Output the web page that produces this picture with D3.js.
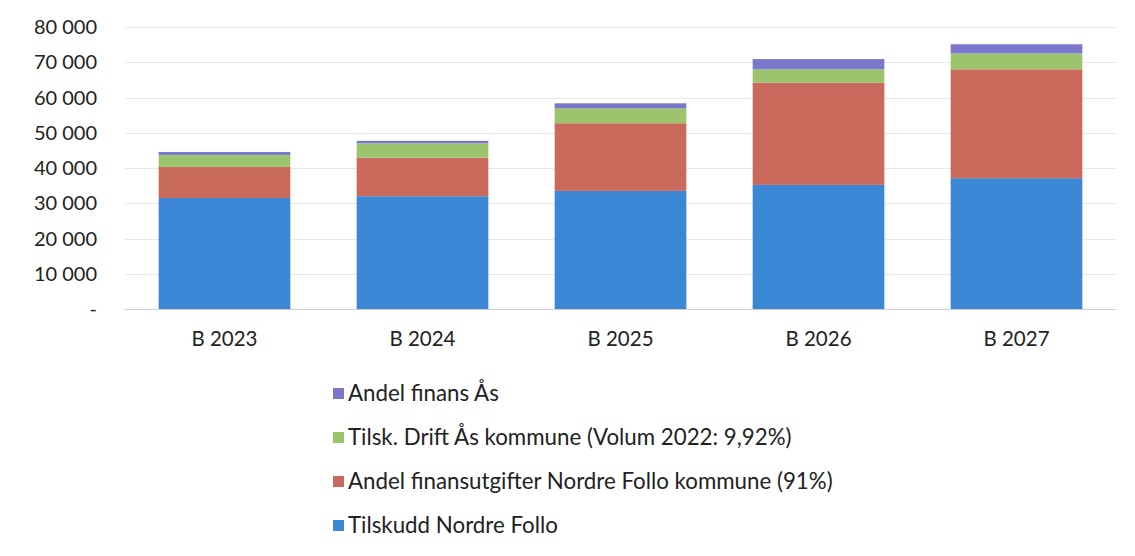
<!DOCTYPE html>
<html>
<head>
<meta charset="utf-8">
<script src="https://cdn.jsdelivr.net/npm/d3@7"></script>
<style>
  body { margin: 0; background: #fff; }
  svg text { font-family: Lato, "Open Sans", sans-serif; fill: #222; }
</style>
</head>
<body>
<svg id="chart" width="1135" height="556"></svg>
<script>
var years = ["B 2023", "B 2024", "B 2025", "B 2026", "B 2027"];
var tilskudd = [31500, 32000, 33500, 35200, 37100];
var finansNF = [8800, 10900, 19200, 29000, 30900];
var driftAas = [3400, 4100, 4250, 3800, 4500];
var finansAas = [850, 700, 1400, 2900, 2600];
var yTicks = [0, 10000, 20000, 30000, 40000, 50000, 60000, 70000, 80000];

var seriesNames = ["Tilskudd Nordre Follo", "Andel finansutgifter Nordre Follo kommune (91%)",
	"Tilsk. Drift Ås kommune (Volum 2022: 9,92%)", "Andel finans Ås"];
var colors = ["#3b87d5", "#c96a5c", "#9cc46c", "#7b78cc"];
var keys = ["t", "f", "d", "a"];

var rows = years.map(function(y, i) {
	return { year: y, t: tilskudd[i], f: finansNF[i], d: driftAas[i], a: finansAas[i] };
});
var stacked = d3.stack().keys(keys)(rows);

var svg = d3.select("#chart"),
	plotLeft = 125, plotRight = 1116, plotTop = 27, plotBottom = 309;

var x = d3.scaleBand().domain(years).range([plotLeft, plotRight]).paddingInner(0.335).paddingOuter(0.17);
var y = d3.scaleLinear().domain([0, 80000]).range([plotBottom, plotTop]);

// gridlines
svg.append("g").selectAll("line")
	.data(yTicks.slice(1))
	.enter().append("line")
	.attr("x1", plotLeft).attr("x2", plotRight)
	.attr("y1", function(d) { return Math.round(y(d)) + 0.5; })
	.attr("y2", function(d) { return Math.round(y(d)) + 0.5; })
	.attr("stroke", "#e8e8e8").attr("stroke-width", 1);

// y labels
svg.append("g").selectAll("text")
	.data(yTicks)
	.enter().append("text")
	.attr("x", 97)
	.attr("y", function(d) { return y(d); })
	.attr("dy", "0.35em")
	.attr("text-anchor", "end")
	.attr("font-size", "20px")
	.text(function(d) { return d === 0 ? "-" : d3.format(",")(d).replace(/,/g, " "); });

// bars
svg.append("g").selectAll("g")
	.data(stacked)
	.enter().append("g")
	.attr("fill", function(d, i) { return colors[i]; })
	.selectAll("rect")
	.data(function(d) { return d; })
	.enter().append("rect")
	.attr("x", function(d) { return x(d.data.year); })
	.attr("width", x.bandwidth())
	.attr("y", function(d) { return y(d[1]); })
	.attr("height", function(d) { return y(d[0]) - y(d[1]); });

// baseline
svg.append("line")
	.attr("x1", plotLeft).attr("x2", plotRight)
	.attr("y1", plotBottom + 0.5).attr("y2", plotBottom + 0.5)
	.attr("stroke", "#cfcfcf");

// x labels
svg.append("g").selectAll("text")
	.data(years)
	.enter().append("text")
	.attr("x", function(d) { return x(d) + x.bandwidth() / 2; })
	.attr("y", 339)
	.attr("dy", "0.35em")
	.attr("text-anchor", "middle")
	.attr("font-size", "20.5px")
	.text(function(d) { return d; });

// legend, top item is the top of the stack
var legend = svg.append("g").selectAll("g")
	.data([3, 2, 1, 0])
	.enter().append("g")
	.attr("transform", function(d, i) { return "translate(333," + (393 + i * 44) + ")"; });

legend.append("rect")
	.attr("x", 0).attr("y", -5).attr("width", 11).attr("height", 11)
	.attr("fill", function(d) { return colors[d]; });

legend.append("text")
	.attr("x", 15).attr("dy", "0.35em")
	.attr("font-size", "22.3px")
	.text(function(d) { return seriesNames[d]; });
</script>
</body>
</html>
